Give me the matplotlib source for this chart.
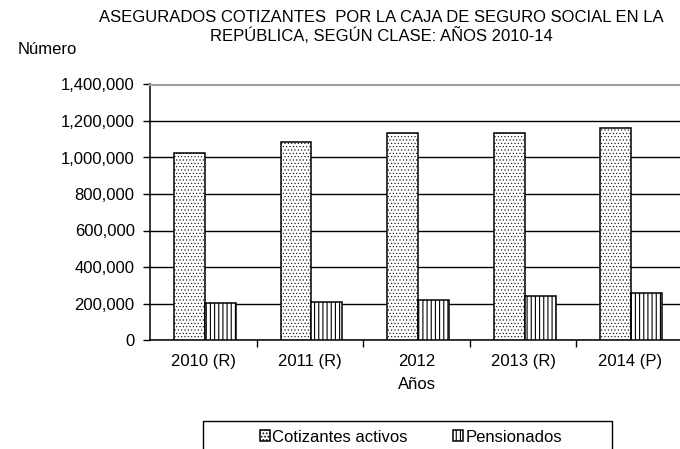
import matplotlib
matplotlib.use("Agg")
import matplotlib.pyplot as plt
from matplotlib.patches import Rectangle
from matplotlib.ticker import FuncFormatter, FixedLocator
import numpy as np

plt.rcParams['font.family'] = ['Liberation Sans', 'DejaVu Sans']

years = ["2010 (R)", "2011 (R)", "2012", "2013 (R)", "2014 (P)"]
cotizantes = [1023000, 1087000, 1134000, 1134000, 1160000]
pensionados = [201000, 210000, 217000, 243000, 259000]
series_names = ["Cotizantes activos", "Pensionados"]
title = "ASEGURADOS COTIZANTES  POR LA CAJA DE SEGURO SOCIAL EN LA\nREPÚBLICA, SEGÚN CLASE: AÑOS 2010-14"

W, H = 680, 449
fig = plt.figure(figsize=(W / 100, H / 100), dpi=100)
ax = fig.add_axes([150 / W, (H - 340) / H, (683 - 150) / W, (340 - 84.5) / H])

x = np.arange(len(years))
w = 0.29
plt.rcParams['hatch.linewidth'] = 0.4
b1 = ax.bar(x - w / 2 + 0.015, cotizantes, w, facecolor='white', edgecolor='black',
            linewidth=1.1, hatch='.....', label=series_names[0], zorder=3)
plt.rcParams['hatch.linewidth'] = 0.8
b2 = ax.bar(x + w / 2 + 0.015, pensionados, w, facecolor='white', edgecolor='black',
            linewidth=1.1, hatch='||||', label=series_names[1], zorder=3)
for p in b1:
    if hasattr(p, 'set_hatch_linewidth'):
        p.set_hatch_linewidth(0.4)

ax.set_xlim(-0.5, len(years) - 0.5)
ax.set_ylim(0, 1400000)
ax.set_yticks(np.arange(0, 1400001, 200000))
ax.yaxis.set_major_formatter(FuncFormatter(lambda v, p: f"{int(v):,}"))
ax.set_axisbelow(True)
ax.grid(axis='y', color='black', linewidth=1.0)

ax.set_xticks(x)
ax.set_xticklabels(years)
ax.xaxis.set_minor_locator(FixedLocator(np.arange(0.5, len(years) - 0.5, 1)))
ax.tick_params(axis='x', which='major', length=0, pad=10, labelsize=12)
ax.tick_params(axis='x', which='minor', length=5, width=1, color='black')
ax.tick_params(axis='y', length=5, width=1, labelsize=12, pad=6)

for s in ['left', 'bottom']:
    ax.spines[s].set_color('black')
    ax.spines[s].set_linewidth(1.1)
ax.spines['right'].set_visible(False)
ax.spines['top'].set_color('#a0a0a0')
ax.spines['top'].set_linewidth(1.5)

ax.set_xlabel("Años", fontsize=12, labelpad=6)

fig.text(381 / W, 1 - 10 / H, title, ha='center', va='top', fontsize=12, linespacing=1.12)
fig.text(18 / W, 1 - 49 / H, "Número", ha='left', va='center', fontsize=12)

fig.patches.append(Rectangle((203 / W, -0.05), (612 - 203) / W, (H - 421) / H + 0.05,
                             transform=fig.transFigure, facecolor='white',
                             edgecolor='black', linewidth=1.0))
fig.legend(handles=[b1, b2], loc='center', bbox_to_anchor=(411 / W, 1 - 437 / H),
           ncol=2, frameon=False, fontsize=12, handlelength=0.6, handleheight=0.6,
           handletextpad=0.15, columnspacing=2.7)

fig.savefig("out.png", dpi=100)
